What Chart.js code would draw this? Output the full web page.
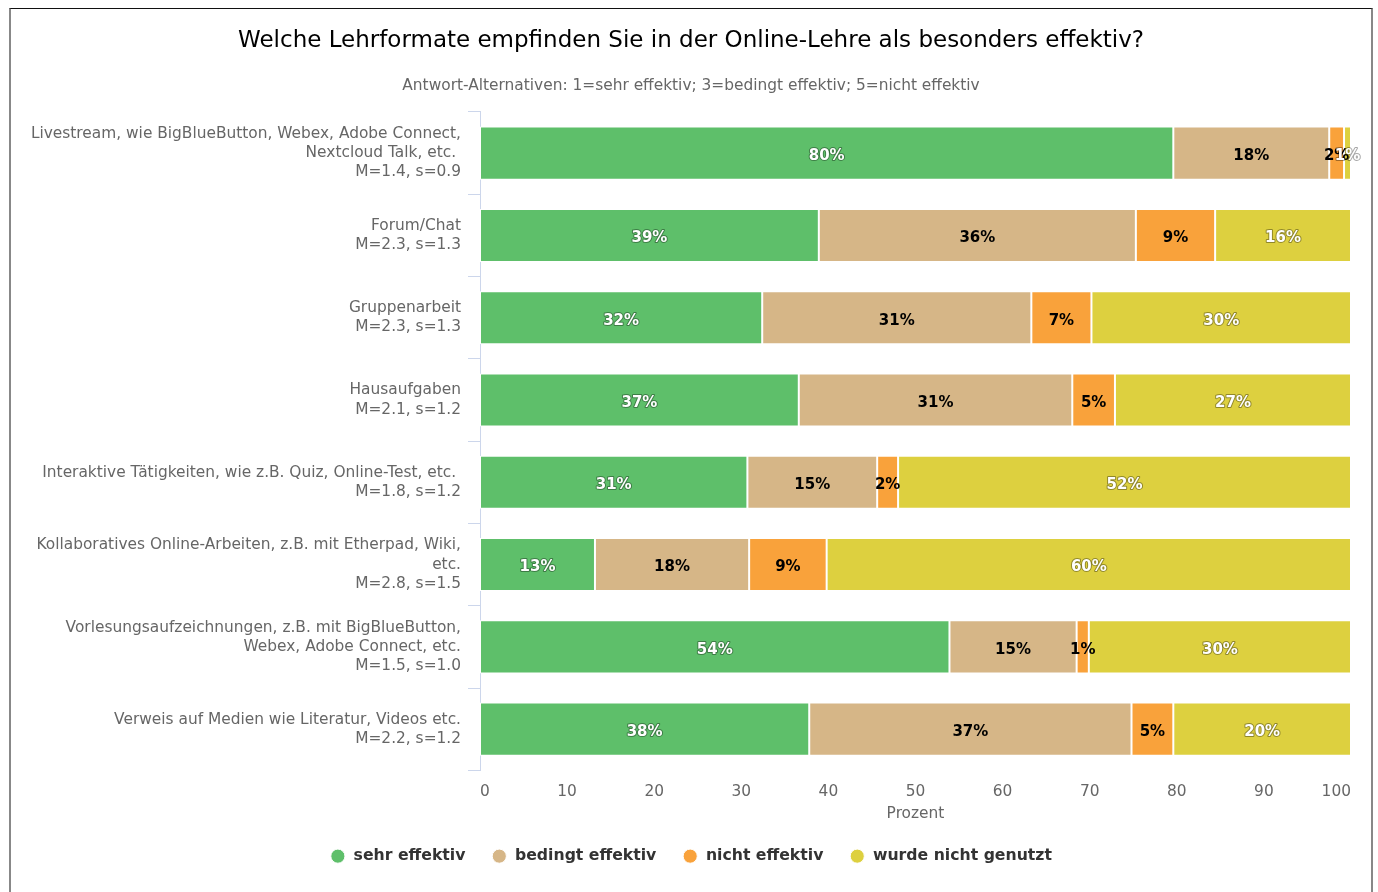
<!DOCTYPE html>
<html>
<head>
<meta charset="utf-8">
<script src="https://cdn.jsdelivr.net/npm/chart.js@4.4.1/dist/chart.umd.min.js"></script>
<style>
  html, body { margin: 0; padding: 0; background: #fff; overflow: hidden; }
  #frame {
    position: absolute; left: 9px; top: 8px; width: 1364px; height: 900px;
    box-sizing: border-box; border-top: 1px solid #111;
    border-left: 2px solid #888; border-right: 2px solid #888;
  }
  #wrap { position: absolute; left: 0; top: 0; width: 1360px; height: 883px; }
</style>
</head>
<body>
<div id="frame"><div id="wrap"><canvas id="c"></canvas></div></div>
<script>
const categories = [
  ["Livestream, wie BigBlueButton, Webex, Adobe Connect,", "Nextcloud Talk, etc. ", "M=1.4, s=0.9"],
  ["Forum/Chat", "M=2.3, s=1.3"],
  ["Gruppenarbeit", "M=2.3, s=1.3"],
  ["Hausaufgaben", "M=2.1, s=1.2"],
  ["Interaktive Tätigkeiten, wie z.B. Quiz, Online-Test, etc. ", "M=1.8, s=1.2"],
  ["Kollaboratives Online-Arbeiten, z.B. mit Etherpad, Wiki,", "etc.", "M=2.8, s=1.5"],
  ["Vorlesungsaufzeichnungen, z.B. mit BigBlueButton,", "Webex, Adobe Connect, etc.", "M=1.5, s=1.0"],
  ["Verweis auf Medien wie Literatur, Videos etc.", "M=2.2, s=1.2"]
];
const seriesNames = ["sehr effektiv", "bedingt effektiv", "nicht effektiv", "wurde nicht genutzt"];
const sehrEffektiv    = [79.6, 38.9, 32.4, 36.6, 30.7, 13.2, 53.9, 37.8];
const bedingtEffektiv = [17.9, 36.4, 30.9, 31.4, 14.9, 17.7, 14.6, 37.0];
const nichtEffektiv   = [1.7, 9.1, 6.9, 4.9, 2.4, 8.9, 1.4, 4.8];
const nichtGenutzt    = [0.8, 15.6, 29.8, 27.1, 52.0, 60.2, 30.1, 20.4];
const xTicks = [0, 10, 20, 30, 40, 50, 60, 70, 80, 90, 100];

const colors = ["#5ebf6a", "#d6b687", "#f9a23b", "#ddd03f"];
const labelColors = ["#ffffff", "#000000", "#000000", "#ffffff"];
const FONT = "'DejaVu Sans', sans-serif";

const dataLabelPlugin = {
  id: 'dataLabels',
  afterDatasetsDraw(chart) {
    const ctx = chart.ctx;
    ctx.save();
    ctx.font = "bold 15px " + FONT;
    ctx.textAlign = 'center';
    ctx.textBaseline = 'middle';
    chart.data.datasets.forEach((ds, di) => {
      const meta = chart.getDatasetMeta(di);
      if (meta.hidden) return;
      meta.data.forEach((el, i) => {
        const v = ds.data[i];
        const txt = Math.round(v) + '%';
        const x = (el.x + el.base) / 2;
        const y = el.y + 3;
        ctx.lineJoin = 'round';
        if (labelColors[di] === '#ffffff') {
          ctx.strokeStyle = 'rgba(0,0,0,0.35)';
          ctx.lineWidth = 2;
          ctx.strokeText(txt, x, y);
        }
        ctx.fillStyle = labelColors[di];
        ctx.fillText(txt, x, y);
      });
    });
    ctx.restore();
  }
};

const datasets = [sehrEffektiv, bedingtEffektiv, nichtEffektiv, nichtGenutzt].map((arr, i) => ({
  label: seriesNames[i],
  data: arr,
  backgroundColor: colors[i],
  borderColor: '#ffffff',
  borderWidth: 1,
  borderSkipped: false,
  barPercentage: 0.645,
  categoryPercentage: 1.0
}));

new Chart(document.getElementById('c'), {
  type: 'bar',
  data: { labels: categories, datasets },
  plugins: [dataLabelPlugin],
  options: {
    indexAxis: 'y',
    responsive: true,
    maintainAspectRatio: false,
    animation: false,
    layout: { padding: { left: 20, right: 20, top: 0, bottom: 18 } },
    scales: {
      x: {
        stacked: true,
        min: 0, max: 100,
        afterBuildTicks(axis) { axis.ticks = xTicks.map(v => ({ value: v })); },
        afterFit(scale) { scale.height = 52; scale.paddingRight = 0; scale.paddingLeft = 0; },
        grid: { display: false, drawTicks: false },
        border: { display: false },
        ticks: { color: '#666666', font: { family: FONT, size: 15.4 }, padding: 12, align: 'inner' },
        title: { display: true, text: 'Prozent', color: '#666666', font: { family: FONT, size: 15.4 }, padding: { top: 0, bottom: -1 } }
      },
      y: {
        stacked: true,
        afterFit(scale) { scale.width = 449; },
        grid: { display: true, drawOnChartArea: false, drawTicks: true, tickLength: 12, color: '#ccd6eb', offset: true },
        border: { display: true, color: '#ccd6eb' },
        ticks: { color: '#666666', font: { family: FONT, size: 15.4, lineHeight: 1.24 }, padding: 7 }
      }
    },
    plugins: {
      title: {
        display: true,
        text: 'Welche Lehrformate empfinden Sie in der Online-Lehre als besonders effektiv?',
        color: '#000000',
        font: { family: FONT, size: 23, weight: 'normal' },
        padding: { top: 18, bottom: 22.4 }
      },
      subtitle: {
        display: true,
        text: 'Antwort-Alternativen: 1=sehr effektiv; 3=bedingt effektiv; 5=nicht effektiv',
        color: '#666666',
        font: { family: FONT, size: 15.4 },
        padding: { top: 0, bottom: 16.5 }
      },
      legend: {
        position: 'bottom',
        labels: {
          usePointStyle: true,
          pointStyle: 'circle',
          boxWidth: 18,
          boxHeight: 10,
          padding: 26,
          color: '#333333',
          font: { family: FONT, size: 15.7, weight: 'bold' }
        }
      },
      tooltip: { enabled: false }
    }
  }
});
</script>
</body>
</html>
